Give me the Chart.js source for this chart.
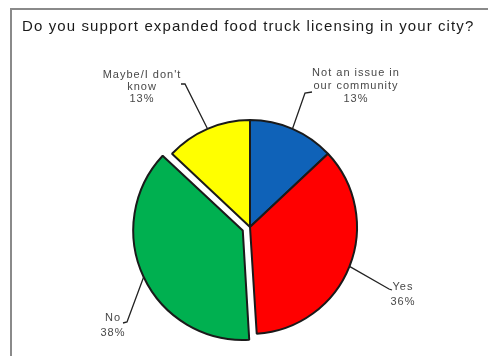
<!DOCTYPE html>
<html>
<head>
<meta charset="utf-8">
<script src="https://cdn.jsdelivr.net/npm/chart.js@4"></script>
<style>
  html, body { margin: 0; padding: 0; background: #fff; overflow: hidden; }
  #frame { position: absolute; left: 10px; top: 8px; width: 500px; height: 400px; border: 2px solid #8a8a8a; }
  #chart { position: absolute; left: 0; top: 0; }
</style>
</head>
<body>
<div id="frame"></div>
<canvas id="chart" width="488" height="356"></canvas>
<script>
const titleText = 'Do you support expanded food truck licensing in your city?'
const categories = ['Not an issue in our community', 'Yes', 'No', "Maybe/I don't know"]
const shares = [13, 36, 38, 13]
const labelLines = [['Not an issue in', 'our community'], ['Yes'], ['No'], ["Maybe/I don't", 'know']]
const sliceColors = ['#0f62b8', '#ff0000', '#00b050', '#ffff00']
// chart.js v4 slides an arc out by offset / 4, so 32 pulls 'No' out ~8px
const sliceOffsets = [0, 0, 32, 0]

// where each callout text sits and where its leader line bends
const calloutSpots = [
    { x: 356, y: 73, gap: 13, elbow: [305, 93], end: [312, 92] },
    { x: 403, y: 287, gap: 15, elbow: [389, 289], end: [392, 290] },
    { x: 113, y: 318, gap: 15, elbow: [127, 322], end: [123, 323] },
    { x: 142, y: 75, gap: 12, elbow: [185, 84], end: [181, 84] },
]

const titleAndCallouts = {
    id: 'titleAndCallouts',
    afterDatasetsDraw(chart) {
        const ctx = chart.ctx
        ctx.save()

        ctx.fillStyle = '#1a1a1a'
        ctx.font = '15px "Liberation Sans", Arial, sans-serif'
        ctx.letterSpacing = '1.1px'
        ctx.textAlign = 'left'
        ctx.textBaseline = 'middle'
        ctx.fillText(titleText, 22, 27)

        const arcs = chart.getDatasetMeta(0).data
        arcs.forEach((arc, i) => {
            const { x, y, startAngle, endAngle, outerRadius, circumference } =
                arc.getProps(['x', 'y', 'startAngle', 'endAngle', 'outerRadius', 'circumference'], true)
            const mid = (startAngle + endAngle) / 2
            // same slide + radius growth that ArcElement.draw applies
            const slide = (arc.options.offset || 0) / 4
            const grow = slide * (1 - Math.sin(Math.min(Math.PI, circumference)))
            const edgeX = x + Math.cos(mid) * (outerRadius + slide + grow)
            const edgeY = y + Math.sin(mid) * (outerRadius + slide + grow)
            const spot = calloutSpots[i]

            ctx.strokeStyle = '#222'
            ctx.lineWidth = 1.3
            ctx.beginPath()
            ctx.moveTo(edgeX, edgeY)
            ctx.lineTo(spot.elbow[0], spot.elbow[1])
            ctx.lineTo(spot.end[0], spot.end[1])
            ctx.stroke()

            ctx.fillStyle = '#484848'
            ctx.font = '11px "Liberation Sans", Arial, sans-serif'
            ctx.letterSpacing = '1px'
            ctx.textAlign = 'center'
            const lines = labelLines[i].concat([shares[i] + '%'])
            lines.forEach((line, k) => {
                ctx.fillText(line, spot.x, spot.y + k * spot.gap)
            })
        })
        ctx.restore()
    }
}

new Chart(document.querySelector('#chart'), {
    type: 'pie',
    data: {
        labels: categories,
        datasets: [{
            data: shares,
            backgroundColor: sliceColors,
            borderColor: '#1a1a1a',
            borderWidth: 2,
            offset: sliceOffsets,
        }]
    },
    options: {
        responsive: false,
        animation: false,
        radius: 107,
        layout: { padding: { left: 20, right: 8, top: 110, bottom: 12 } },
        plugins: {
            legend: { display: false },
            tooltip: { enabled: false },
        }
    },
    plugins: [titleAndCallouts]
})
</script>
</body>
</html>
